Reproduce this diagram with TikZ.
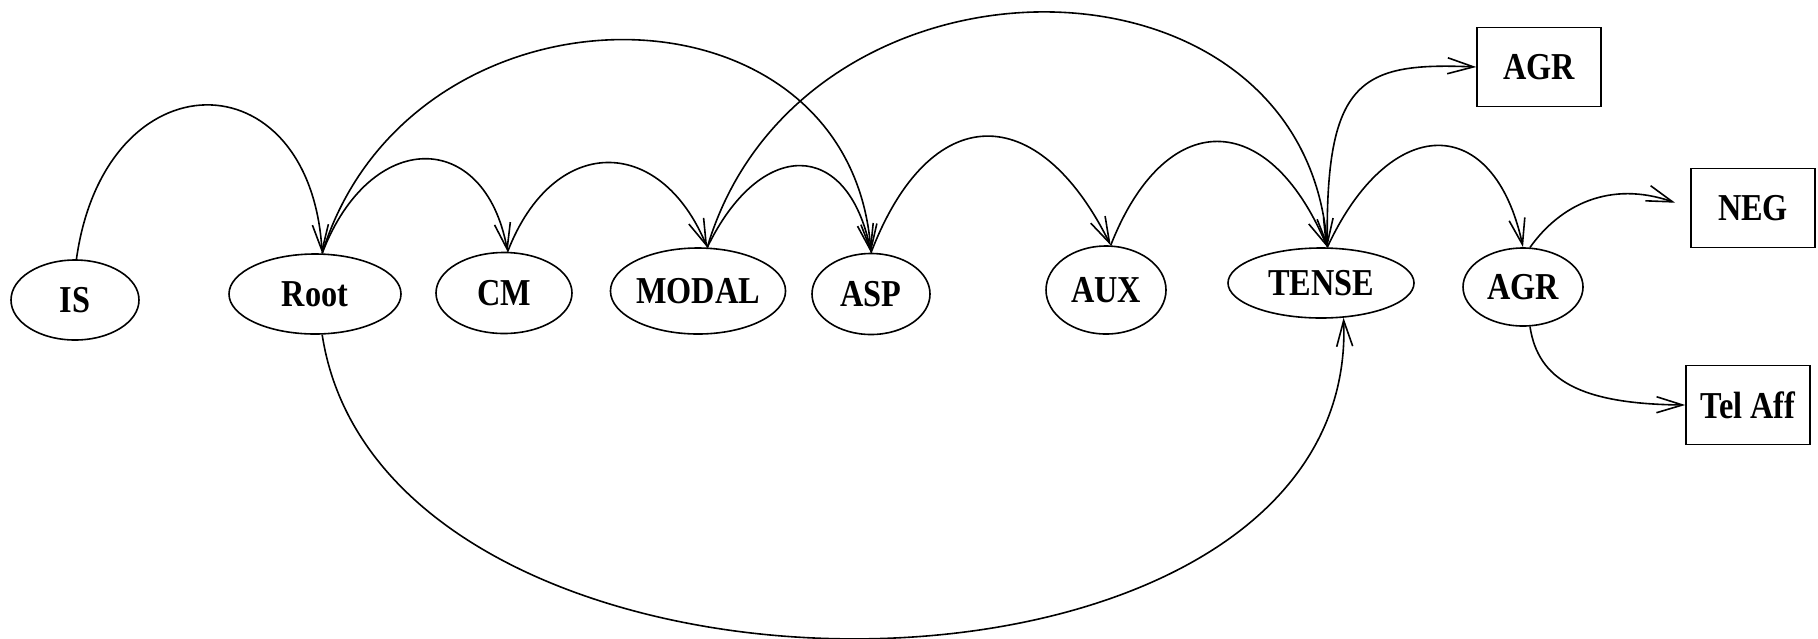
\documentclass[tikz,border=0pt]{standalone}
\usepackage{fontspec}
\setmainfont{Liberation Serif}[FakeStretch=0.85]
\usetikzlibrary{shapes.geometric,arrows.meta}

\begin{document}
\begin{tikzpicture}[
    x=0.5pt, y=-0.5pt,
    >={Straight Barb[length=13pt,width=8pt]},
    every node/.style={font=\fontsize{19}{21}\selectfont\bfseries},
    morph/.style={ellipse, draw, line width=0.8pt, inner sep=0pt},
    affix/.style={rectangle, draw, line width=0.8pt, minimum width=62pt, minimum height=39.5pt},
    dep/.style={->, line width=0.8pt}
]
\useasboundingbox (0,0) rectangle (1818,638);

\node[morph, minimum width=64pt, minimum height=40pt] (IS) at (75,300) {IS};
\node[morph, minimum width=86pt, minimum height=40pt] (Root) at (315,294) {Root};
\node[morph, minimum width=68pt, minimum height=40.5pt] (CM) at (504,293) {CM};
\node[morph, minimum width=81pt, minimum height=43pt] (MODAL) at (698,291) {MODAL};
\node[morph, minimum width=59pt, minimum height=40.5pt] (ASP) at (871,294) {ASP};
\node[morph, minimum width=60pt, minimum height=44pt] (AUX) at (1106,290) {AUX};
\node[morph, minimum width=93pt, minimum height=35pt] (TENSE) at (1321,283) {TENSE};
\node[morph, minimum width=60pt, minimum height=39pt] (AGR) at (1523,287) {AGR};

\node[affix] (AGRbox) at (1539,67) {AGR};
\node[affix] (NEG) at (1753,208) {NEG};
\node[affix] (TelAff) at (1748,405) {Tel Aff};

\draw[dep] (IS.88) .. controls (105,55) and (310,55) .. (Root.80);
\draw[dep] (Root.80) .. controls (370,128) and (485,128) .. (CM.85);
\draw[dep] (Root.80) .. controls (410,-31) and (850,-31) .. (ASP.north);
\draw[dep] (CM.85) .. controls (553,134) and (660,134) .. (MODAL.78);
\draw[dep] (MODAL.78) .. controls (760,138) and (848,138) .. (ASP.north);
\draw[dep] (MODAL.78) .. controls (800,-66) and (1303,-66) .. (TENSE.80);
\draw[dep] (ASP.north) .. controls (930,99) and (1038,99) .. (AUX.84);
\draw[dep] (AUX.84) .. controls (1165,107) and (1268,107) .. (TENSE.80);
\draw[dep] (TENSE.80) .. controls (1325,80) and (1360,62) .. (AGRbox.west);
\draw[dep] (TENSE.80) .. controls (1390,112) and (1494,112) .. (AGR.north);
\draw[dep, shorten >=8pt] (AGR.80) .. controls (1560,205) and (1610,180) .. (NEG.west);
\draw[dep] (AGR.-80) .. controls (1538,380) and (1580,404) .. (TelAff.west);
\draw[dep] (Root.-80) .. controls (385,745) and (1360,740) .. (TENSE.-57);
\end{tikzpicture}
\end{document}
